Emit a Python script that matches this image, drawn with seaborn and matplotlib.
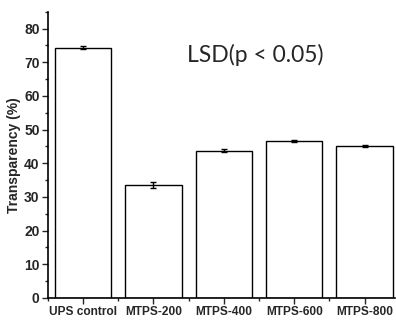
import matplotlib
matplotlib.use('Agg')
import matplotlib.pyplot as plt
from matplotlib.ticker import MultipleLocator, FixedLocator
import seaborn as sns
import pandas as pd

samples = ["UPS control", "MTPS-200", "MTPS-400", "MTPS-600", "MTPS-800"]
transparency = [74.4, 33.5, 43.7, 46.7, 45.0]
errors = [0.4, 0.9, 0.4, 0.3, 0.3]

df = pd.DataFrame({"sample": samples, "transparency": transparency})

sns.set_theme(style="ticks")
plt.rcParams['font.family'] = ['Liberation Sans', 'DejaVu Sans']

fig = plt.figure(figsize=(3.96, 3.2), dpi=100)
ax = fig.add_axes([0.121, 0.069, 0.876, 0.894])

sns.barplot(data=df, x="sample", y="transparency", color="white",
            edgecolor="black", linewidth=1.0, width=0.8, errorbar=None, ax=ax)
ax.errorbar(range(len(samples)), transparency, yerr=errors, fmt="none",
            ecolor="black", elinewidth=1.0, capsize=2.5, capthick=1.0)

ax.set_xlim(-0.5, 4.43)
ax.set_ylim(0, 85)
ax.yaxis.set_major_locator(MultipleLocator(10))
ax.yaxis.set_minor_locator(MultipleLocator(5))
ax.xaxis.set_minor_locator(FixedLocator([-0.5, 0.5, 1.5, 2.5, 3.5]))
ax.tick_params(axis="both", which="major", direction="out", length=4, width=1, pad=2)
ax.tick_params(axis="x", which="major", labelsize=8.6)
ax.tick_params(axis="y", which="major", labelsize=10)
ax.tick_params(axis="both", which="minor", direction="out", length=2.5, width=1)
for lbl in ax.get_xticklabels() + ax.get_yticklabels():
    lbl.set_fontweight("bold")

ax.set_xlabel("")
ax.set_ylabel("Transparency (%)", fontsize=10, fontweight="bold", labelpad=2)
for side in ["top", "right"]:
    ax.spines[side].set_visible(False)
for side in ["left", "bottom"]:
    ax.spines[side].set_linewidth(1.2)
    ax.spines[side].set_color("black")

ax.text(0.597, 0.85, "LSD(p < 0.05)", transform=ax.transAxes, ha="center", va="center",
        fontsize=16.5, family=["Lato", "DejaVu Sans"])

fig.savefig("out.png", dpi=100)
